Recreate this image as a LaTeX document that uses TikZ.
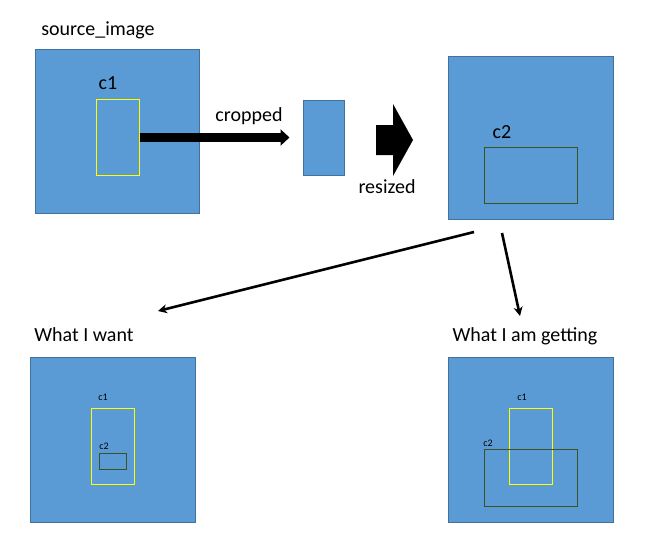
\documentclass[tikz,border=0pt]{standalone}
\usepackage{fontspec}
\setmainfont{Carlito}
\usepackage{tikz}
\usetikzlibrary{positioning, arrows.meta}
\usepackage{xcolor}
\definecolor{ImgBlue}{HTML}{5B9BD5}
\definecolor{ImgEdge}{HTML}{41719C}
\definecolor{CropYellow}{HTML}{FFFF00}
\definecolor{CropGreen}{HTML}{3B5323}

\begin{document}
\begin{tikzpicture}[x=1pt, y=-1pt,
    every node/.style={inner sep=0pt},
    image/.style={draw=ImgEdge, fill=ImgBlue, line width=1pt, minimum width=164pt, minimum height=164pt},
    cone/.style={draw=CropYellow, line width=1pt, minimum width=43pt, minimum height=76pt},
    ctwo/.style={draw=CropGreen, line width=1pt},
    bigtxt/.style={anchor=base, font=\fontsize{20}{24}\selectfont},
    smalltxt/.style={anchor=base, font=\fontsize{10}{12}\selectfont},
    link/.style={line width=2.6pt, -{Stealth[length=9pt, width=9pt]}}]
  \useasboundingbox (0,0) rectangle (650,549);
  % Source image with crop c1
  \node[bigtxt] (tsrc) at (98,35) {source\_image};
  \node[image] (src) at (117,131) {};
  \node[cone] (srcc1) at (117.5,137.5) {};
  \node[bigtxt] (lsrcc1) at (108,89) {c1};
  % Cropped piece
  \node[draw=ImgEdge, fill=ImgBlue, line width=1pt, minimum width=41pt, minimum height=75pt]
    (crop) at (323.5,137.5) {};
  \draw[line width=9pt, -{Triangle[length=9pt, width=16pt]}, shorten >=13pt]
    (srcc1.east) -- (crop.west);
  \node[bigtxt] (tcrop) at (249,121) {cropped};
  % Block arrow (resize step)
  \fill (376,125) -- (393,125) -- (393,104) -- (413,140)
    -- (393,176) -- (393,155) -- (376,155) -- cycle;
  \node[bigtxt] (tres) at (387,193) {resized};
  % Resized image with crop c2
  \node[image, minimum height=163pt, minimum width=165pt] (res) at (530.5,137.5) {};
  \node[ctwo, minimum width=93pt, minimum height=56pt] (resc2) at (530.5,175) {};
  \node[bigtxt] (lresc2) at (502,138) {c2};
  % Arrows to the two results
  \coordinate (r1) at (474,232);
  \coordinate (w1) at (158,311);
  \coordinate (r2) at (502,233);
  \coordinate (g1) at (520,316);
  \draw[link] (r1) -- (w1);
  \draw[link] (r2) -- (g1);
  % What I want
  \node[bigtxt] (twant) at (84,341) {What I want};
  \node[image, minimum width=165pt, minimum height=165pt] (want) at (112.5,439.5) {};
  \node[cone] (wantc1) at (112.5,446) {};
  \node[ctwo, minimum width=27pt, minimum height=16pt] (wantc2) at (112.5,461) {};
  \node[smalltxt] (lwantc1) at (103,400) {c1};
  \node[smalltxt] (lwantc2) at (104,449) {c2};
  % What I am getting
  \node[bigtxt] (tget) at (525,341) {What I am getting};
  \node[image, minimum width=165pt, minimum height=165pt] (get) at (530.5,439.5) {};
  \node[cone] (getc1) at (530.5,446) {};
  \node[ctwo, minimum width=93pt, minimum height=57pt] (getc2) at (530.5,477.5) {};
  \node[smalltxt] (lgetc1) at (522,400) {c1};
  \node[smalltxt] (lgetc2) at (488,446) {c2};
\end{tikzpicture}
\end{document}
